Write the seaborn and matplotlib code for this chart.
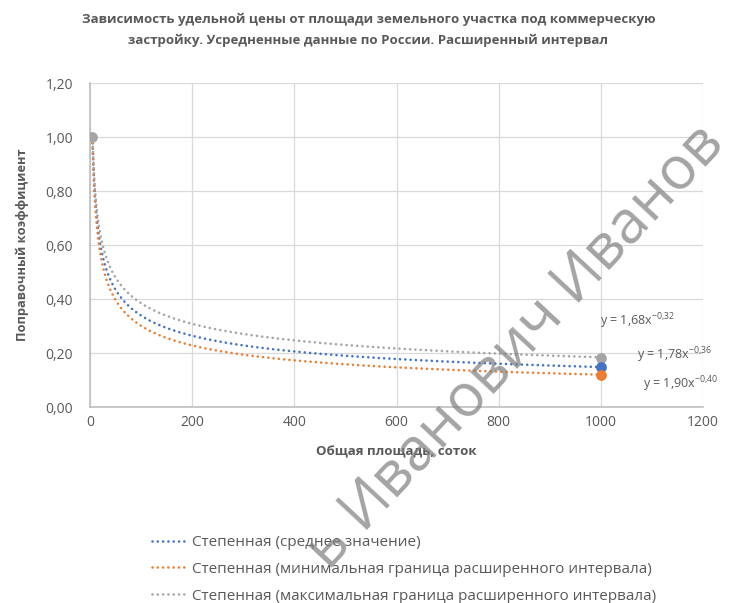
import numpy as np
import pandas as pd
import seaborn as sns
import matplotlib.pyplot as plt
from matplotlib.ticker import FuncFormatter

# trendline coefficients y = a * x^b, as printed on the chart
series_names = [
    "Степенная (среднее значение)",
    "Степенная (минимальная граница расширенного интервала)",
    "Степенная (максимальная граница расширенного интервала)",
]
coef_a = [1.78, 1.90, 1.68]
coef_b = [-0.36, -0.40, -0.32]
eq_labels = ["y = 1,78x$^{-0{,}36}$", "y = 1,90x$^{-0{,}40}$", "y = 1,68x$^{-0{,}32}$"]
colors = ["#4472C4", "#ED7D31", "#A5A5A5"]

# observed points (area, coefficient)
point_x = [5, 1000]
point_y = [[1.00, 0.15], [1.00, 0.12], [1.00, 0.18]]

title = ("Зависимость удельной цены от площади земельного участка под коммерческую\n"
         "застройку. Усредненные данные по России. Расширенный интервал")

sns.set_theme(style="white")
plt.rcParams['font.family'] = ['Open Sans', 'DejaVu Sans']
plt.rcParams['mathtext.default'] = 'regular'

fig = plt.figure(figsize=(7.37, 6.03), dpi=100)
ax = fig.add_axes([0.122, 0.325, 0.832, 0.537])

x_area = np.linspace(point_x[0], point_x[1], 2000)
rows = []
for name, a, b in zip(series_names, coef_a, coef_b):
    for xv in x_area:
        rows.append({"x": xv, "y": a * xv ** b, "series": name})
trend_df = pd.DataFrame(rows)

sns.lineplot(data=trend_df, x="x", y="y", hue="series", palette=colors,
             hue_order=series_names, ax=ax, linewidth=1.9, linestyle=(0, (0.01, 2.0)),
             dash_capstyle="round")

# gray under the others at x=1000, gray on top at x=5
for i in [2, 0, 1]:
    ax.scatter(point_x[1:], point_y[i][1:], s=60, color=colors[i], zorder=5, linewidth=0)
ax.scatter(point_x[:1], point_y[2][:1], s=60, color=colors[2], zorder=6, linewidth=0)

ax.set_xlim(0, 1200)
ax.set_ylim(0, 1.2)
ax.set_xticks(np.arange(0, 1201, 200))
ax.set_yticks(np.arange(0, 1.21, 0.2))
ax.yaxis.set_major_formatter(FuncFormatter(lambda v, p: f"{v:.2f}".replace(".", ",")))
ax.grid(True, color="#D9D9D9", linewidth=0.9)
for s in ["top", "right"]:
    ax.spines[s].set_visible(False)
for s in ["left", "bottom"]:
    ax.spines[s].set_color("#BFBFBF")
    ax.spines[s].set_linewidth(1.2)
ax.tick_params(colors="#595959", labelsize=10, length=0)
ax.tick_params(axis="y", pad=12)
ax.tick_params(axis="x", pad=6)

ax.set_xlabel("Общая площадь, соток", fontsize=9.5, fontweight="bold", color="#595959", labelpad=11)
ax.set_ylabel("Поправочный коэффициент", fontsize=9.3, fontweight="bold", color="#595959", labelpad=12)

fig.text(0.5, 0.978, title, ha="center", va="top", fontsize=9.5, fontweight="bold",
         color="#595959", linespacing=1.75)

# equation labels
ax.text(1071, 0.318, eq_labels[2], fontsize=9, color="#595959", ha="center", va="center")
ax.text(1145, 0.193, eq_labels[0], fontsize=9, color="#595959", ha="center", va="center")
ax.text(1155, 0.085, eq_labels[1], fontsize=9, color="#595959", ha="center", va="center")

handles, labels = ax.get_legend_handles_labels()
ax.legend(handles, labels, loc="upper left", bbox_to_anchor=(0.101, -0.395), frameon=False,
          fontsize=11, labelcolor="#595959", handlelength=2.35, handletextpad=0.26,
          labelspacing=0.78, borderpad=0, borderaxespad=0)

fig.text(0.70, 0.425, "ь Иванович Иванов", fontsize=43, color="#808080", alpha=0.72,
         rotation=47, ha="center", va="center")

fig.savefig("out.png", dpi=100)
